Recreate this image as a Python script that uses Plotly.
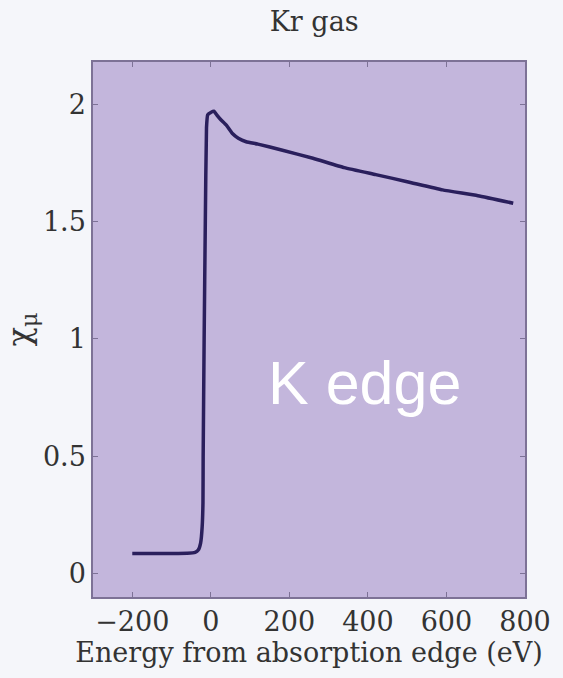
import plotly.graph_objects as go

# Kr K-edge absorption: energy relative to edge (eV) and chi_mu
energy = [-200, -150, -100, -60, -40, -32, -26, -22, -20, -19.5, -17, -14, -11,
          -8, 0, 8, 15, 25, 40, 55, 70, 90, 120, 180, 260, 340, 420, 500, 590, 680, 770]
chi_mu = [0.085, 0.085, 0.085, 0.086, 0.09, 0.10, 0.13, 0.20, 0.30, 0.50, 1.00, 1.50, 1.90,
          1.955, 1.965, 1.97, 1.955, 1.935, 1.91, 1.875, 1.855, 1.84, 1.83, 1.805, 1.77,
          1.73, 1.70, 1.67, 1.635, 1.61, 1.578]

x_ticks = [-200, 0, 200, 400, 600, 800]
x_tick_text = ["\u2212200", "0", "200", "400", "600", "800"]
y_ticks = [0, 0.5, 1, 1.5, 2]
y_tick_text = ["0", "0.5", "1", "1.5", "2"]

serif = "DejaVu Serif, Liberation Serif, serif"
ink = "#333333"

fig = go.Figure()
fig.add_trace(go.Scatter(
    x=energy, y=chi_mu, mode="lines",
    line=dict(color="#2a1f5c", width=3.5, shape="spline", smoothing=0.4),
    showlegend=False,
))

fig.add_annotation(
    x=392, y=0.81, xref="x", yref="y", text="K edge", showarrow=False,
    font=dict(family="Liberation Sans, Arial, sans-serif", size=61, color="white"),
    xanchor="center", yanchor="middle",
)

axis_common = dict(
    showgrid=False, zeroline=False, mirror="ticks", showline=True,
    linecolor="#7d7296", linewidth=1.5, ticks="inside", ticklen=5,
    tickcolor="#7d7296", tickfont=dict(family=serif, size=27, color=ink),
)

fig.update_layout(
    width=563, height=678,
    margin=dict(l=92, r=26, t=62, b=81),
    paper_bgcolor="#f5f6fa",
    plot_bgcolor="#c3b6dc",
    title=dict(text="Kr gas", x=0.558, xanchor="center", y=0.968, yanchor="middle",
               font=dict(family=serif, size=27, color=ink)),
    xaxis=dict(range=[-300, 800], tickvals=x_ticks, ticktext=x_tick_text,
               title=dict(text="Energy from absorption edge (eV)", standoff=0,
                          font=dict(family=serif, size=27, color=ink)),
               **axis_common),
    yaxis=dict(range=[-0.1, 2.18], tickvals=y_ticks, ticktext=y_tick_text,
               title=dict(text="\u03c7<sub>\u03bc</sub>", standoff=8,
                          font=dict(family=serif, size=32, color=ink)),
               **axis_common),
)

fig.write_html("out.html")
